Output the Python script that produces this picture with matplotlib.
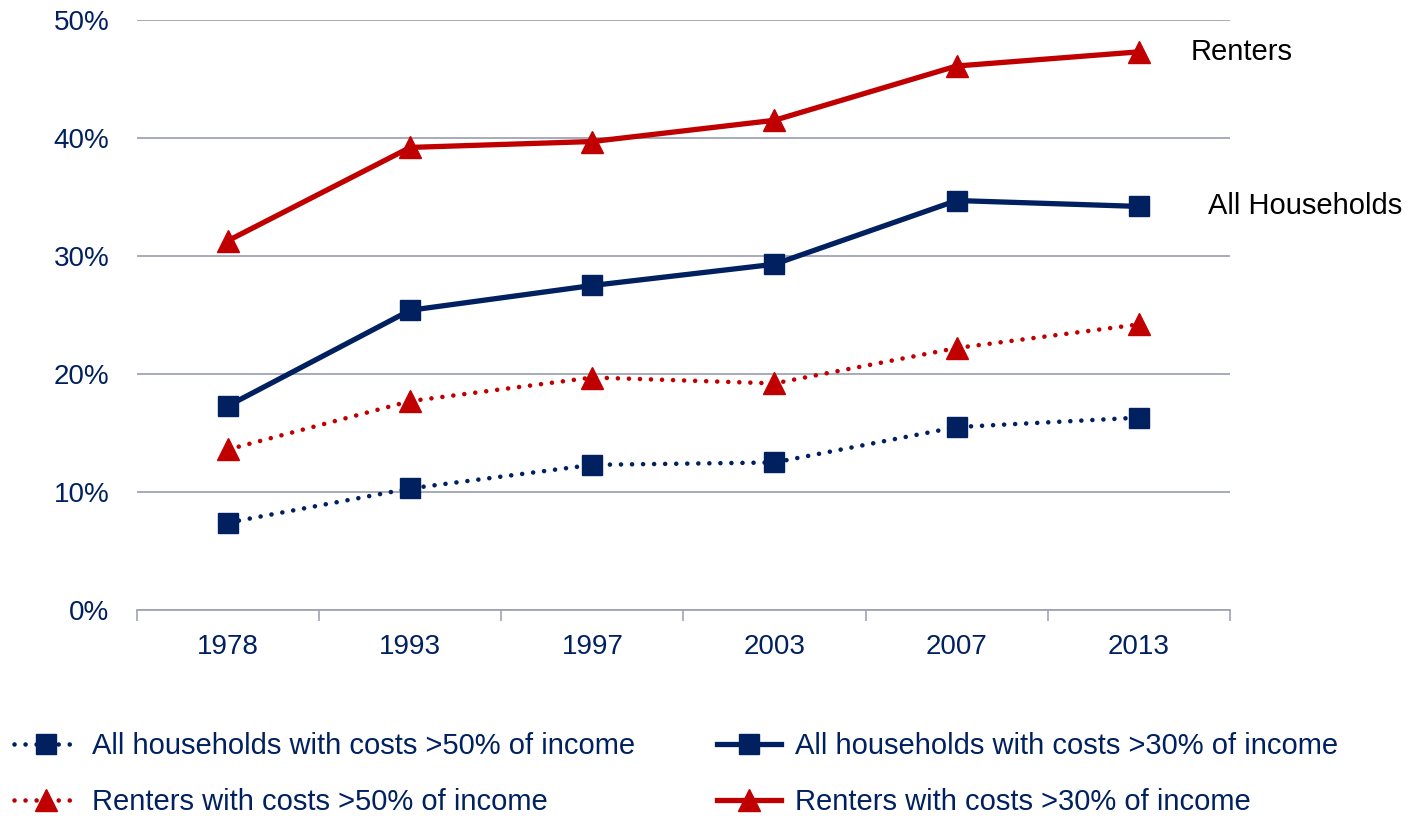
import matplotlib
matplotlib.use("Agg")
import matplotlib.pyplot as plt
from matplotlib.ticker import PercentFormatter

plt.rcParams['font.family'] = ['Liberation Sans', 'DejaVu Sans']

years = ['1978', '1993', '1997', '2003', '2007', '2013']
all_50 = [7.4, 10.3, 12.3, 12.5, 15.5, 16.3]
renters_50 = [13.6, 17.7, 19.7, 19.2, 22.2, 24.2]
all_30 = [17.3, 25.4, 27.5, 29.3, 34.7, 34.2]
renters_30 = [31.3, 39.2, 39.7, 41.5, 46.1, 47.3]

navy = '#002060'
red = '#C00000'
grid = '#A0A4B4'

fig = plt.figure(figsize=(14.12, 8.16), dpi=100)
ax = fig.add_axes([0.097, 0.2525, 0.774, 0.723])

x = list(range(len(years)))
dot = (0, (0.01, 2.4))

l1, = ax.plot(x, all_50, color=navy, lw=3.3, ls=dot, dash_capstyle='round',
              marker='s', ms=14, mec=navy, mfc=navy,
              label='All households with costs >50% of income')
l2, = ax.plot(x, renters_50, color=red, lw=3.3, ls=dot, dash_capstyle='round',
              marker='^', ms=16, mec=red, mfc=red,
              label='Renters with costs >50% of income')
l3, = ax.plot(x, all_30, color=navy, lw=3.8, marker='s', ms=14.5,
              label='All households with costs >30% of income')
l4, = ax.plot(x, renters_30, color=red, lw=3.8, marker='^', ms=16.5,
              label='Renters with costs >30% of income')

ax.set_xlim(-0.5, len(years) - 0.5)
ax.set_ylim(0, 50)
ax.set_yticks(range(0, 51, 10))
ax.yaxis.set_major_formatter(PercentFormatter(decimals=0))
ax.set_xticks(x)
ax.set_xticklabels(years)
ax.set_xticks([i - 0.5 for i in range(len(years) + 1)], minor=True)
ax.tick_params(axis='x', which='major', length=0, pad=17, labelsize=20, labelcolor=navy)
ax.tick_params(axis='x', which='minor', length=8, width=1.2, color=grid, direction='out')
ax.tick_params(axis='y', length=0, pad=20, labelsize=20, labelcolor=navy)

ax.grid(axis='y', color=grid, lw=1.3)
ax.set_axisbelow(True)
for s in ['left', 'right', 'top']:
    ax.spines[s].set_visible(False)
ax.spines['bottom'].set_color(grid)
ax.spines['bottom'].set_linewidth(1.3)

ax.text(5.285, 47.3, 'Renters', fontsize=21, va='center', ha='left')
ax.text(5.38, 34.2, 'All Households', fontsize=21, va='center', ha='left')

leg = fig.legend(handles=[l1, l2, l3, l4], loc='upper left', ncol=2,
                 bbox_to_anchor=(-0.009, 0.135), frameon=False,
                 fontsize=21, handlelength=2.2, handletextpad=0.48,
                 columnspacing=2.8, labelspacing=0.95)
for t in leg.get_texts():
    t.set_color(navy)

fig.savefig('out.png', dpi=100)
